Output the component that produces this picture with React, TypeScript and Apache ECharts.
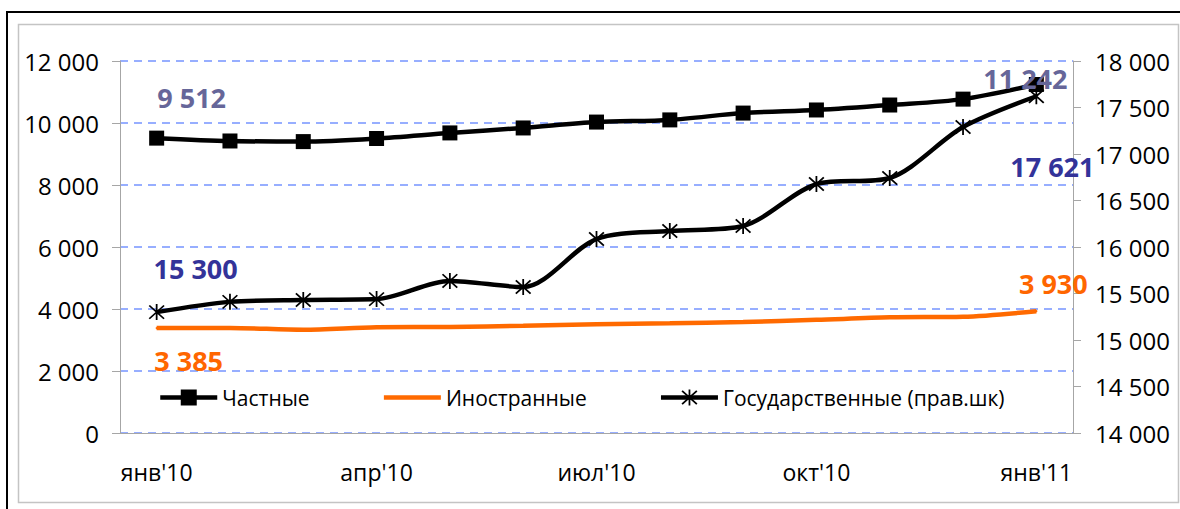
import React, { useEffect, useRef } from "react";
import * as echarts from "echarts";

const months = ["янв'10", "фев'10", "мар'10", "апр'10", "май'10", "июн'10", "июл'10", "авг'10", "сен'10", "окт'10", "ноя'10", "дек'10", "янв'11"];
const privateVals = [9512, 9420, 9400, 9500, 9680, 9840, 10030, 10100, 10320, 10420, 10580, 10770, 11242];
const foreignVals = [3385, 3390, 3330, 3410, 3420, 3460, 3510, 3540, 3580, 3650, 3730, 3750, 3930];
const stateVals = [15300, 15410, 15430, 15440, 15635, 15570, 16086, 16172, 16226, 16677, 16742, 17290, 17621];
const seriesNames = ["Частные", "Иностранные", "Государственные (прав.шк)"];

const FONT = "'Open Sans', sans-serif";
const fmt = (v: number) => String(Math.round(v)).replace(/\B(?=(\d{3})+(?!\d))/g, " ");

const STAR =
  "path://M9 0 L11 0 L11 20 L9 20 Z M1 2.4 L2.4 1 L19 17.6 L17.6 19 Z M17.6 1 L19 2.4 L2.4 19 L1 17.6 Z";

function labelled(vals: number[], marks: Record<number, any>) {
  return vals.map((v, i) => (marks[i] ? { value: v, ...marks[i] } : v));
}

export default function App() {
  const ref = useRef<HTMLDivElement>(null);
  useEffect(() => {
    document.body.style.margin = "0";
    const chart = echarts.init(ref.current!, null, { renderer: "svg" });
    const bigLabel = (color: string, offset: number[]) => ({
      show: true,
      position: "inside",
      offset,
      formatter: (p: any) => fmt(p.value),
      color,
      fontFamily: FONT,
      fontWeight: "bold",
      fontSize: 27,
    });
    const last = months.length - 1;
    chart.setOption({
      animation: false,
      backgroundColor: "#ffffff",
      textStyle: { fontFamily: FONT },
      graphic: [
        { type: "rect", shape: { x: 18.5, y: 24.5, width: 1160, height: 478 }, style: { fill: "none", stroke: "#c4c4c4", lineWidth: 1.5 }, silent: true },
        { type: "line", shape: { x1: 7, y1: 12, x2: 7, y2: 509 }, style: { stroke: "#000", lineWidth: 2 }, silent: true },
        { type: "line", shape: { x1: 6, y1: 12, x2: 1180, y2: 12 }, style: { stroke: "#000", lineWidth: 2 }, silent: true },
      ],
      grid: { left: 120, right: 107, top: 61, bottom: 76, containLabel: false },
      legend: {
        data: [
          { name: seriesNames[0] },
          { name: seriesNames[1], itemStyle: { opacity: 0 } },
          { name: seriesNames[2] },
        ],
        left: 153,
        top: 382,
        itemWidth: 57,
        itemHeight: 20,
        itemGap: 72,
        lineStyle: { width: 4.5 },
        textStyle: { fontFamily: FONT, fontSize: 21, color: "#000" },
      },
      xAxis: {
        type: "category",
        data: months,
        boundaryGap: true,
        axisLine: { lineStyle: { color: "#a6a6a6", width: 1 } },
        axisTick: { interval: 2, length: 8, lineStyle: { color: "#a6a6a6" } },
        axisLabel: { interval: 2, margin: 27, fontSize: 23, color: "#000", fontFamily: FONT },
        splitLine: { show: false },
      },
      yAxis: [
        {
          type: "value",
          min: 0,
          max: 12000,
          interval: 2000,
          axisLine: { show: true, lineStyle: { color: "#a6a6a6", width: 1 } },
          axisTick: { show: true, length: 8, lineStyle: { color: "#a6a6a6" } },
          axisLabel: { margin: 21, fontSize: 24, color: "#000", fontFamily: FONT, formatter: fmt },
          splitLine: { show: true, lineStyle: { color: "#7694ff", type: [8, 6], width: 1.5 } },
        },
        {
          type: "value",
          min: 14000,
          max: 18000,
          interval: 500,
          position: "right",
          axisLine: { show: true, lineStyle: { color: "#a6a6a6", width: 1 } },
          axisTick: { show: true, length: 8, lineStyle: { color: "#a6a6a6" } },
          axisLabel: { margin: 22, fontSize: 24, color: "#000", fontFamily: FONT, formatter: fmt },
          splitLine: { show: false },
        },
      ],
      series: [
        {
          name: seriesNames[1],
          type: "line",
          yAxisIndex: 0,
          smooth: 0.3,
          symbol: "none",
          color: "#ff6a00",
          lineStyle: { width: 4.5, color: "#ff6a00" },
          data: labelled(foreignVals, {
            0: { symbol: "circle", symbolSize: 2, label: bigLabel("#ff6600", [32, 32]) },
            [last]: { symbol: "circle", symbolSize: 2, label: bigLabel("#ff6600", [17, -28]) },
          }),
          z: 3,
        },
        {
          name: seriesNames[0],
          type: "line",
          yAxisIndex: 0,
          smooth: 0.3,
          symbol: "rect",
          symbolSize: 15,
          color: "#000",
          itemStyle: { color: "#000" },
          lineStyle: { width: 4.5, color: "#000" },
          data: labelled(privateVals, {
            0: { label: bigLabel("#666699", [35, -41]) },
            [last]: { label: bigLabel("#666699", [-11, -6]) },
          }),
          z: 4,
        },
        {
          name: seriesNames[2],
          type: "line",
          yAxisIndex: 1,
          smooth: 0.3,
          symbol: STAR,
          symbolSize: 16,
          color: "#000",
          itemStyle: { color: "#000" },
          lineStyle: { width: 4.5, color: "#000" },
          data: labelled(stateVals, {
            0: { label: bigLabel("#333399", [39, -44]) },
            [last]: { label: bigLabel("#333399", [16, 70]) },
          }),
          z: 5,
        },
      ],
    });
    return () => chart.dispose();
  }, []);
  return <div ref={ref} style={{ position: "absolute", left: 0, top: 0, width: 1180, height: 509 }} />;
}
